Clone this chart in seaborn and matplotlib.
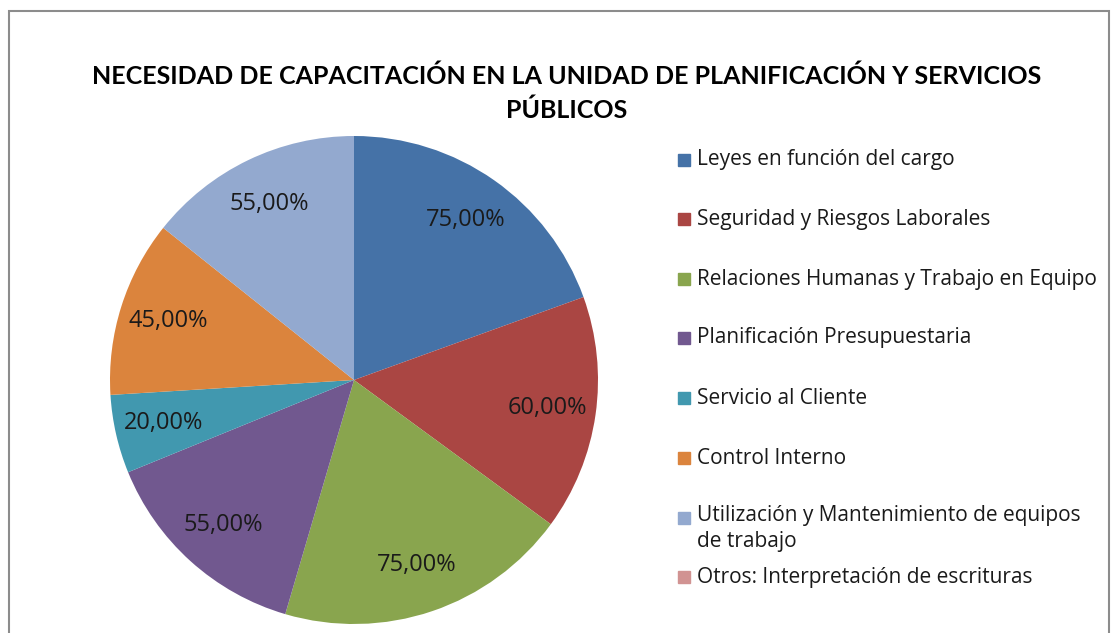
import matplotlib
matplotlib.use("Agg")
import matplotlib.pyplot as plt
import seaborn as sns
import numpy as np
from matplotlib.patches import Rectangle

# Datos del gráfico
categorias = [
    "Leyes en función del cargo",
    "Seguridad y Riesgos Laborales",
    "Relaciones Humanas y Trabajo en Equipo",
    "Planificación Presupuestaria",
    "Servicio al Cliente",
    "Control Interno",
    "Utilización y Mantenimiento de equipos\nde trabajo",
    "Otros: Interpretación de escrituras",
]
valores = [75, 60, 75, 55, 20, 45, 55, 0]
colores = ["#4572A7", "#AA4643", "#89A54E", "#71588F",
           "#4198AF", "#DB843D", "#93A9CF", "#D19392"]
titulo = "NECESIDAD DE CAPACITACIÓN EN LA UNIDAD DE PLANIFICACIÓN Y SERVICIOS\nPÚBLICOS"

sns.set_theme(style="white")
plt.rcParams["font.family"] = ["Open Sans", "DejaVu Sans"]

W, H = 1113, 633
fig = plt.figure(figsize=(W / 100, H / 100), dpi=100)

# Marco gris del gráfico
fig.patches.append(Rectangle((9 / W, -0.1), (1100 / W), 1 - 11 / H + 0.1,
                             transform=fig.transFigure, fill=False,
                             edgecolor="#8c8c8c", linewidth=1.5))

# Pastel: centro (354, 380), radio ~244 px
cx, cy, r = 354, 380, 244
ax = fig.add_axes([(cx - r) / W, (H - cy - r) / H, 2 * r / W, 2 * r / H])
wedges, _ = ax.pie(valores, colors=colores, startangle=90, counterclock=False,
                   wedgeprops=dict(linewidth=0))
ax.set_aspect("equal")
ax.set_xlim(-1, 1)
ax.set_ylim(-1, 1)

# Etiquetas con el valor
total = sum(valores)
ang = 90.0
for v in valores:
    if v == 0:
        continue
    mid = np.deg2rad(ang - v / total * 360 / 2)
    ax.text(0.8 * np.cos(mid), 0.8 * np.sin(mid), f"{v:.2f}".replace(".", ",") + "%",
            ha="center", va="center", fontsize=17, color="#1a1a1a")
    ang -= v / total * 360

fig.text(567 / W, 1 - 93 / H, titulo, ha="center", va="center",
         fontsize=18, fontweight="bold", color="black", linespacing=1.55,
         family=["Lato", "DejaVu Sans"])

# Leyenda
ys = [160, 219, 279, 338, 398, 458, 518, 577]
for lab, col, y in zip(categorias, colores, ys):
    fig.patches.append(Rectangle((678 / W, 1 - (y + 6) / H), 12 / W, 12 / H,
                                 transform=fig.transFigure, color=col))
    if "\n" in lab:
        fig.text(697 / W, 1 - (y - 13) / H, lab, ha="left", va="top",
                 fontsize=15, color="#1a1a1a", linespacing=1.3)
    else:
        fig.text(697 / W, 1 - y / H, lab, ha="left", va="center",
                 fontsize=15, color="#1a1a1a")

fig.savefig("out.png", dpi=100)
